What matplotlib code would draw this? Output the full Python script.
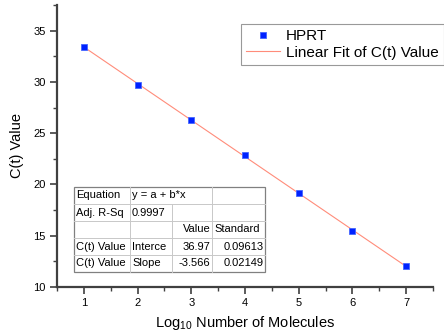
import matplotlib.pyplot as plt
import numpy as np
from matplotlib.lines import Line2D

plt.rcParams['font.family'] = ['Liberation Sans', 'DejaVu Sans']
plt.rcParams['mathtext.fontset'] = 'custom'
plt.rcParams['mathtext.rm'] = 'Liberation Sans'

# data
log_molecules = [1, 2, 3, 4, 5, 6, 7]
ct_value = [33.45, 29.7, 26.25, 22.85, 19.2, 15.5, 12.05]
intercept = 36.97
slope = -3.566

table_rows = [
    ['Equation', 'y = a + b*x', '', ''],
    ['Adj. R-Sq', '0.9997', '', ''],
    ['', '', 'Value', 'Standard'],
    ['C(t) Value', 'Interce', '36.97', '0.09613'],
    ['C(t) Value', 'Slope', '-3.566', '0.02149'],
]

W, H = 444, 332
fig = plt.figure(figsize=(W / 100, H / 100), dpi=100)
ax = fig.add_axes([57 / W, 1 - 287 / H, (433 - 57) / W, (287 - 5) / H])

ax.plot(log_molecules, ct_value, 's', color='#0022ff', markersize=5,
        markeredgecolor='#4466ff', markeredgewidth=0.6, label='HPRT', zorder=3)
xf = np.array([log_molecules[0], log_molecules[-1]])
ax.plot(xf, intercept + slope * xf, '-', color='#ff8c7a', lw=0.8,
        label='Linear Fit of C(t) Value', zorder=2)

ax.set_xlim(0.5, 7.5)
ax.set_ylim(10, 37.5)
ax.set_xticks(range(1, 8))
ax.set_xticks(np.arange(0.5, 7.6, 1), minor=True)
ax.set_yticks(range(10, 36, 5))
ax.set_yticks(np.arange(12.5, 37.6, 5), minor=True)

for s in ['top', 'right']:
    ax.spines[s].set_visible(False)
for s in ['left', 'bottom']:
    ax.spines[s].set_linewidth(1.6)
    ax.spines[s].set_color('#404040')
ax.tick_params(which='major', direction='out', length=5, width=1.2, color='#404040',
               labelsize=8, pad=3)
ax.tick_params(which='minor', direction='out', length=3, width=1.0, color='#404040')

ax.set_ylabel('C(t) Value', fontsize=10.5, labelpad=7)
ax.set_xlabel(r'Log$_{\mathregular{10}}$ Number of Molecules', fontsize=10.5, labelpad=4)

leg = fig.legend(loc='upper left', bbox_to_anchor=(241 / W, 1 - 24 / H), fontsize=11,
                 frameon=True, fancybox=False, edgecolor='#808080', borderpad=0.35,
                 handlelength=2.2, handletextpad=0.4, labelspacing=0.15, borderaxespad=0)
leg.get_frame().set_linewidth(0.8)


# table in pixel coordinates
def px(x, y):
    return x / W, 1 - y / H


col_x = [74, 130, 172, 212, 265]
row_y = [187 + 17 * i for i in range(6)]
tr = fig.transFigure

bg = plt.Rectangle(px(col_x[0], row_y[-1]), (col_x[-1] - col_x[0]) / W,
                   (row_y[-1] - row_y[0]) / H, transform=tr, facecolor='white',
                   edgecolor='#808080', lw=0.9, zorder=5)
fig.patches.append(bg)
for y in row_y[1:-1]:
    fig.add_artist(Line2D([px(col_x[0], 0)[0], px(col_x[-1], 0)[0]], [px(0, y)[1]] * 2,
                          transform=tr, color='#c8c8c8', lw=0.7, zorder=6))
for i, x in enumerate(col_x[1:-1]):
    start = row_y[1] if i == 1 else row_y[0]
    fig.add_artist(Line2D([px(x, 0)[0]] * 2, [px(0, start)[1], px(0, row_y[-1])[1]],
                          transform=tr, color='#c8c8c8', lw=0.7, zorder=6))

for r, row in enumerate(table_rows):
    yc = px(0, row_y[r] + 8.5)[1]
    for c, txt in enumerate(row):
        if not txt:
            continue
        if c < 2 or (r == 2 and c == 3):
            xx, ha = col_x[c] + 2, 'left'
        else:
            xx, ha = col_x[c + 1] - 1.5, 'right'
        fig.text(px(xx, 0)[0], yc, txt, ha=ha, va='center', fontsize=8,
                 transform=tr, zorder=7)

fig.savefig('out.png', dpi=100)
